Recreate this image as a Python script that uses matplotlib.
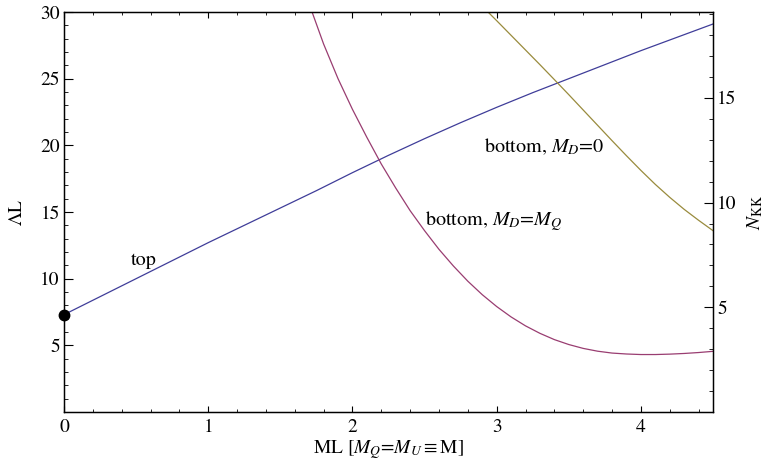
import matplotlib
matplotlib.use("Agg")
import matplotlib.pyplot as plt
import numpy as np
from matplotlib.ticker import MultipleLocator

plt.rcParams["font.family"] = "STIXGeneral"
plt.rcParams["mathtext.fontset"] = "stix"

# --- data ---
# "top" curve (blue)
top_x = [0, 0.25, 0.5, 0.75, 1.0, 1.25, 1.5, 1.75, 2.0, 2.25, 2.5, 2.75,
         3.0, 3.25, 3.5, 3.75, 4.0, 4.25, 4.5]
top_y = [7.3, 8.65, 10.0, 11.35, 12.7, 14.0, 15.3, 16.6, 17.95, 19.25, 20.5,
         21.7, 22.85, 23.95, 25.0, 26.05, 27.1, 28.1, 29.1]

# "bottom, M_D = M_Q" curve (purple)
bq_x = [1.72, 1.8, 1.9, 2.0, 2.1, 2.2, 2.3, 2.4, 2.5, 2.6, 2.7, 2.8, 2.9,
        3.0, 3.1, 3.2, 3.3, 3.4, 3.5, 3.6, 3.7, 3.8, 3.9, 4.0, 4.1, 4.2,
        4.3, 4.4, 4.5]
bq_y = [30.0, 27.6, 25.0, 22.7, 20.6, 18.6, 16.8, 15.1, 13.6, 12.2, 10.95,
        9.81, 8.80, 7.91, 7.13, 6.46, 5.90, 5.43, 5.06, 4.77, 4.56, 4.42,
        4.35, 4.31, 4.31, 4.34, 4.39, 4.46, 4.55]

# "bottom, M_D = 0" curve (gold)
b0_x = [2.94, 3.0, 3.1, 3.2, 3.3, 3.4, 3.5, 3.6, 3.7, 3.8, 3.9, 4.0,
        4.1, 4.2, 4.3, 4.4, 4.5]
b0_y = [30.0, 29.35, 28.25, 27.15, 26.05, 24.93, 23.8, 22.65, 21.5, 20.35,
        19.22, 18.12, 17.07, 16.1, 15.2, 14.38, 13.6]

start_pt = (0.0, 7.3)

# conversion lambda*L -> N_KK for the right axis
nkk_per_lambda = 2 / np.pi

blue = "#3f3d99"
purple = "#993d71"
gold = "#998b3d"

fig = plt.figure(figsize=(7.7, 4.71), dpi=100)
ax = fig.add_axes([64 / 770, 59 / 471, 649 / 770, 400 / 471])

ax.plot(top_x, top_y, color=blue, lw=0.9)
ax.plot(bq_x, bq_y, color=purple, lw=0.9)
ax.plot(b0_x, b0_y, color=gold, lw=0.9)
ax.plot(*start_pt, "o", color="black", ms=7.5, clip_on=False, zorder=5)

ax.set_xlim(0, 4.5)
ax.set_ylim(0, 30)

ax.text(0.46, 11.4, "top", fontsize=14.5, va="center", ha="left")
ax.text(2.91, 19.9, r"bottom, $M_D$=0", fontsize=14.5, va="center", ha="left")
ax.text(2.50, 14.3, r"bottom, $M_D$=$M_Q$", fontsize=14.5, va="center", ha="left")

ax.xaxis.set_major_locator(MultipleLocator(1))
ax.xaxis.set_minor_locator(MultipleLocator(0.2))
ax.set_yticks([5, 10, 15, 20, 25, 30])
ax.yaxis.set_minor_locator(MultipleLocator(1))
ax.tick_params(axis="x", which="major", direction="in", length=4.3, width=0.8,
               top=True, labelsize=14, pad=5)
ax.tick_params(axis="x", which="minor", direction="in", length=2.5, width=0.6,
               top=True)
ax.tick_params(axis="y", which="major", direction="in", length=6.5, width=0.8,
               right=False, labelsize=14, pad=3)
ax.tick_params(axis="y", which="minor", direction="in", length=3.2, width=0.6,
               right=False)

for s in ax.spines.values():
    s.set_linewidth(1.0)

ax.set_xlabel(r"ML [$M_Q$=$M_U$$\equiv$M]", fontsize=14, labelpad=1.5)
ax.set_ylabel(r"$\Lambda$L", fontsize=14, labelpad=10)

ax2 = ax.twinx()
ax2.set_ylim(0, 30 * nkk_per_lambda)
ax2.set_yticks([5, 10, 15])
ax2.yaxis.set_minor_locator(MultipleLocator(1))
ax2.tick_params(axis="y", which="major", direction="in", length=6.5, width=0.8,
                labelsize=14, pad=3)
ax2.tick_params(axis="y", which="minor", direction="in", length=3.2, width=0.6)
ax2.set_ylabel(r"$N_{\mathrm{KK}}$", fontsize=14, labelpad=6)

fig.savefig("out.png", dpi=100)
